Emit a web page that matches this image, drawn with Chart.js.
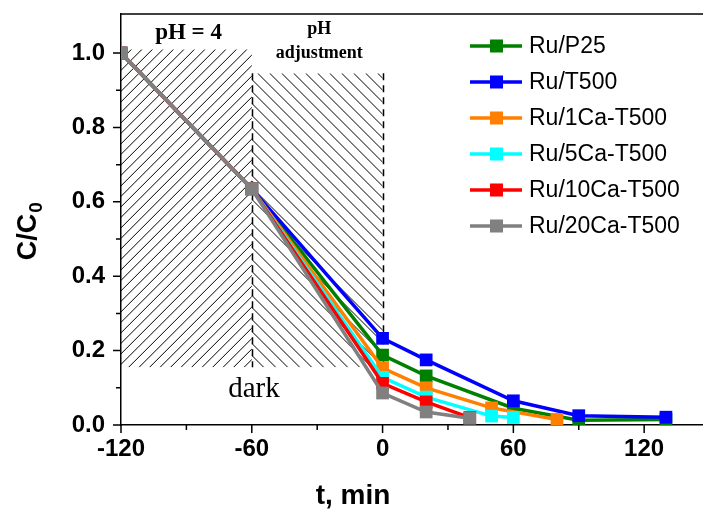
<!DOCTYPE html>
<html>
<head>
<meta charset="utf-8">
<script src="https://cdn.jsdelivr.net/npm/chart.js@4.4.1/dist/chart.umd.min.js"></script>
<style>
html,body{margin:0;padding:0;background:#fff;}
#wrap{width:703px;height:513px;position:relative;}
</style>
</head>
<body>
<div id="wrap"><canvas id="chart" width="703" height="513"></canvas></div>
<script>
// series: time (min) and C/C0
const seriesNames=['Ru/P25','Ru/T500','Ru/1Ca-T500','Ru/5Ca-T500','Ru/10Ca-T500','Ru/20Ca-T500'];
const seriesColors=['#008000','#0000ff','#ff8000','#00ffff','#ff0000','#808080'];
const p25X=[-120,-60,0,20,60,90,130];
const p25Y=[1.0,0.635,0.188,0.132,0.045,0.013,0.015];
const t500X=[-120,-60,0,20,60,90,130];
const t500Y=[1.0,0.635,0.233,0.175,0.065,0.025,0.021];
const ca1X=[-120,-60,0,20,50,80];
const ca1Y=[1.0,0.635,0.153,0.100,0.046,0.015];
const ca5X=[-120,-60,0,20,50,60];
const ca5Y=[1.0,0.635,0.128,0.075,0.024,0.020];
const ca10X=[-120,-60,0,20,40];
const ca10Y=[1.0,0.635,0.112,0.062,0.020];
const ca20X=[-120,-60,0,20,40];
const ca20Y=[1.0,0.635,0.086,0.035,0.018];

const xMajor=[-120,-60,0,60,120];
const xMinor=[-90,-30,30,90];
const yMajor=[0,0.2,0.4,0.6,0.8,1.0];
const yMinor=[0.1,0.3,0.5,0.7,0.9];

// shaded periods (time range, C/C0 range)
const darkX=[-120,-60], darkY=[0.155,1.01];
const adjX=[-60,0], adjY=[0.155,0.946];
const dashX=[-60,0], dashY=[0.155,0.946];

const xs=[p25X,t500X,ca1X,ca5X,ca10X,ca20X];
const ys=[p25Y,t500Y,ca1Y,ca5Y,ca10Y,ca20Y];

function pts(x,y){return x.map((v,i)=>({x:v,y:y[i]}));}

const datasets=seriesNames.map((n,i)=>({
  label:n,data:pts(xs[i],ys[i]),
  borderColor:seriesColors[i],backgroundColor:seriesColors[i],
  borderWidth:3.5,pointStyle:'rect',pointRadius:9,pointHoverRadius:9,
  pointBorderWidth:0,tension:0,order:6-i
}));

function hatch(ctx,l,r,t,b,step,dir){
  ctx.save();
  ctx.beginPath();ctx.rect(l,t,r-l,b-t);ctx.clip();
  ctx.strokeStyle='#000';ctx.lineWidth=1;
  const h=b-t;
  ctx.beginPath();
  for(let x=l-h-step;x<r+h+step;x+=step){
    if(dir>0){ctx.moveTo(x,b);ctx.lineTo(x+h,t);}
    else{ctx.moveTo(x,t);ctx.lineTo(x+h,b);}
  }
  ctx.stroke();
  ctx.restore();
}

const decor={
  id:'decor',
  beforeDatasetsDraw(chart){
    const ctx=chart.ctx,xS=chart.scales.x,yS=chart.scales.y;
    hatch(ctx,xS.getPixelForValue(darkX[0]),xS.getPixelForValue(darkX[1]),yS.getPixelForValue(darkY[1]),yS.getPixelForValue(darkY[0]),10.5,1);
    hatch(ctx,xS.getPixelForValue(adjX[0]),xS.getPixelForValue(adjX[1]),yS.getPixelForValue(adjY[1]),yS.getPixelForValue(adjY[0]),12,-1);
    ctx.save();
    ctx.strokeStyle='#000';ctx.lineWidth=1.5;ctx.setLineDash([7,5]);
    dashX.forEach(v=>{
      const px=Math.round(xS.getPixelForValue(v))+0.5;
      ctx.beginPath();ctx.moveTo(px,yS.getPixelForValue(dashY[1]));ctx.lineTo(px,yS.getPixelForValue(dashY[0]));ctx.stroke();
    });
    ctx.restore();
  },
  afterDraw(chart){
    const ctx=chart.ctx,xS=chart.scales.x,yS=chart.scales.y,a=chart.chartArea;
    ctx.save();
    ctx.strokeStyle='#000';ctx.lineWidth=1.5;
    // top frame
    ctx.beginPath();ctx.moveTo(a.left,a.top);ctx.lineTo(a.right,a.top);ctx.stroke();
    // tick marks
    ctx.beginPath();
    xMajor.forEach(v=>{const p=xS.getPixelForValue(v);ctx.moveTo(p,a.bottom);ctx.lineTo(p,a.bottom+8);});
    xMinor.forEach(v=>{const p=xS.getPixelForValue(v);ctx.moveTo(p,a.bottom);ctx.lineTo(p,a.bottom+5);});
    yMajor.forEach(v=>{const p=yS.getPixelForValue(v);ctx.moveTo(a.left,p);ctx.lineTo(a.left-8,p);});
    yMinor.forEach(v=>{const p=yS.getPixelForValue(v);ctx.moveTo(a.left,p);ctx.lineTo(a.left-5,p);});
    ctx.stroke();
    // annotations
    ctx.fillStyle='#000';ctx.textAlign='center';ctx.textBaseline='middle';
    ctx.font='bold 23px "Liberation Serif", serif';
    ctx.fillText('pH = 4',xS.getPixelForValue(-89),33);
    ctx.font='bold 18px "Liberation Serif", serif';
    ctx.fillText('pH',xS.getPixelForValue(-29),29);
    ctx.fillText('adjustment',xS.getPixelForValue(-29),53);
    ctx.font='29px "Liberation Serif", serif';
    ctx.fillText('dark',xS.getPixelForValue(-59),389);
    // axis titles
    ctx.font='bold 28px "Liberation Sans", Arial, sans-serif';
    ctx.fillText('t, min',353,496);
    ctx.save();
    ctx.translate(27,229);ctx.rotate(-Math.PI/2);
    ctx.font='bold 27px "Liberation Sans", Arial, sans-serif';
    ctx.textAlign='left';ctx.textBaseline='alphabetic';
    const w=ctx.measureText('C/C').width;
    const w0=16;
    ctx.fillText('C/C',-(w+w0)/2,9);
    ctx.font='bold 19px "Liberation Sans", Arial, sans-serif';
    ctx.fillText('0',-(w+w0)/2+w+1,15);
    ctx.restore();
    // legend
    ctx.textAlign='left';ctx.textBaseline='middle';
    ctx.font='23px "Liberation Sans", Arial, sans-serif';
    seriesNames.forEach((n,i)=>{
      const y=46+36*i;
      ctx.strokeStyle=seriesColors[i];ctx.lineWidth=3.5;
      ctx.beginPath();ctx.moveTo(470,y);ctx.lineTo(522,y);ctx.stroke();
      ctx.fillStyle=seriesColors[i];ctx.fillRect(490,y-6.5,13,13);
      ctx.fillStyle='#000';ctx.fillText(n,529,y+1);
    });
    ctx.restore();
  }
};

const tickFont={family:'"Liberation Sans", Arial, sans-serif',size:24,weight:'bold'};

new Chart(document.getElementById('chart'),{
  type:'line',
  data:{datasets},
  options:{
    responsive:false,animation:false,
    layout:{autoPadding:false,padding:{top:14,right:0,left:0,bottom:0}},
    plugins:{legend:{display:false},tooltip:{enabled:false}},
    scales:{
      x:{type:'linear',min:-120,max:147,
        grid:{display:false,drawTicks:false},
        border:{display:true,color:'#000',width:1.5},
        afterBuildTicks:s=>{s.ticks=xMajor.map(v=>({value:v}));},
        afterFit:s=>{s.height=88;s.paddingLeft=0;s.paddingRight=0;},
        ticks:{color:'#000',font:tickFont,padding:10,maxRotation:0,callback:v=>String(v)}},
      y:{type:'linear',min:0,max:1.105,
        grid:{display:false,drawTicks:false},
        border:{display:true,color:'#000',width:1.5},
        afterBuildTicks:s=>{s.ticks=yMajor.map(v=>({value:v}));},
        afterFit:s=>{s.width=121;s.paddingTop=0;s.paddingBottom=0;},
        ticks:{color:'#000',font:tickFont,padding:16,callback:v=>Number(v).toFixed(1)}}
    }
  },
  plugins:[decor]
});
</script>
</body>
</html>
